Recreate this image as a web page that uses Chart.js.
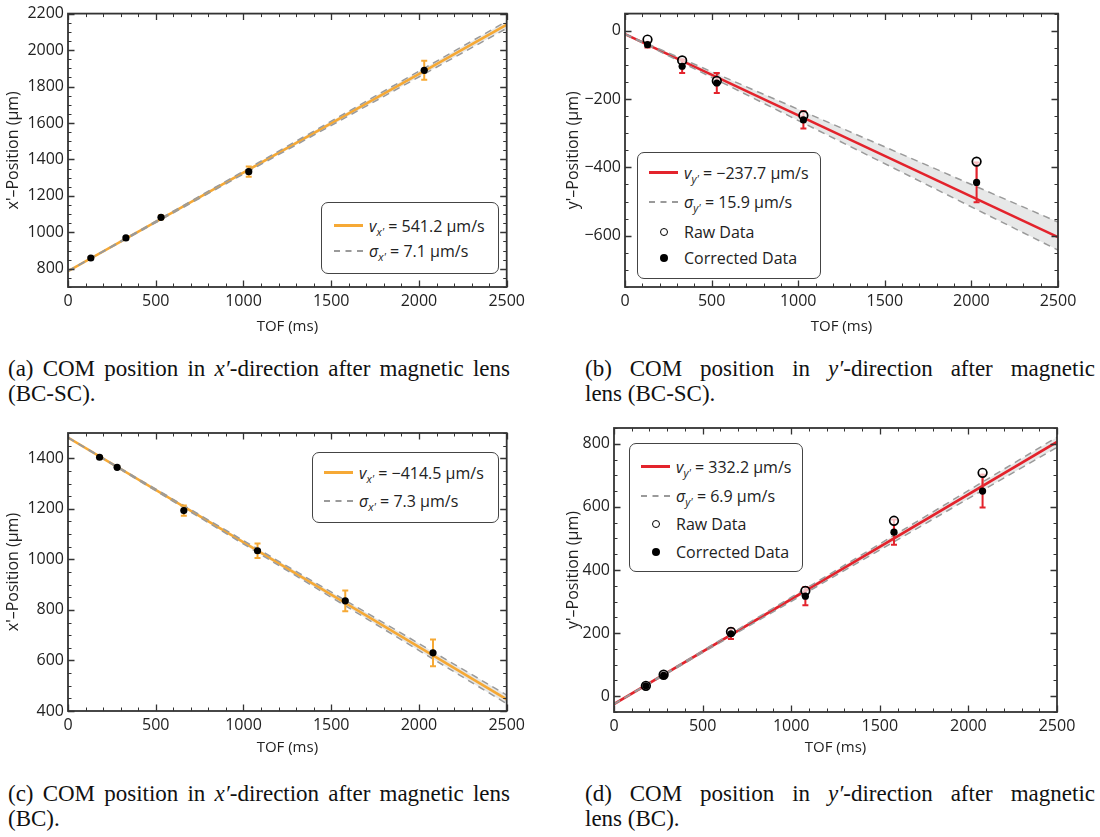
<!DOCTYPE html>
<html>
<head>
<meta charset="utf-8">
<script src="https://cdn.jsdelivr.net/npm/chart.js@4/dist/chart.umd.min.js"></script>
<style>
  body { margin: 0; background: #fff; width: 1100px; height: 837px; position: relative; overflow: hidden; font-family: "Open Sans", sans-serif; color: #222; }
  canvas { position: absolute; }
  .legend { position: absolute; border: 1.3px solid #444; border-radius: 7px; background: #fff; font-size: 16px; box-sizing: border-box; }
  .row { position: absolute; left: 0; height: 20px; line-height: 20px; white-space: nowrap; }
  .sw { position: absolute; top: 9px; width: 29px; height: 0; }
  .sw.orange { border-top: 3px solid #f6a935; top: 8px; }
  .sw.red { border-top: 3px solid #e3232c; top: 8px; }
  .sw.dash { border-top: 2px dashed #9a9a9a; }
  .mk { position: absolute; top: 6px; width: 8px; height: 8px; border-radius: 50%; box-sizing: border-box; }
  .mk.open { border: 1.5px solid #000; background: #fff; }
  .mk.full { background: #000; }
  .lt { position: absolute; top: 0; }
  .lt sub { font-size: 11px; vertical-align: -4px; line-height: 0; }
  .cap { position: absolute; font-family: "Liberation Serif", serif; font-size: 23px; line-height: 25px; color: #111; white-space: nowrap; }
  .cap.l1 { text-align: justify; text-align-last: justify; white-space: normal; }
</style>
</head>
<body>

<canvas id="cA" width="530" height="340" style="left:0;top:0"></canvas>
<canvas id="cB" width="530" height="340" style="left:560px;top:0"></canvas>
<canvas id="cC" width="530" height="351" style="left:0;top:410px"></canvas>
<canvas id="cD" width="530" height="351" style="left:560px;top:410px"></canvas>

<!-- legends -->
<div class="legend" style="left:321px;top:202px;width:178px;height:72px">
  <div class="row" style="top:13px"><span class="sw orange" style="left:12px"></span><span class="lt" style="left:47px"><i>v</i><sub><i>x'</i></sub> = 541.2 μm/s</span></div>
  <div class="row" style="top:38px"><span class="sw dash" style="left:12px"></span><span class="lt" style="left:47px"><i>σ</i><sub><i>x'</i></sub> = 7.1 μm/s</span></div>
</div>
<div class="legend" style="left:637px;top:152px;width:184px;height:127px">
  <div class="row" style="top:10px"><span class="sw red" style="left:11px"></span><span class="lt" style="left:46px"><i>v</i><sub><i>y'</i></sub> = −237.7 μm/s</span></div>
  <div class="row" style="top:39px"><span class="sw dash" style="left:11px"></span><span class="lt" style="left:46px"><i>σ</i><sub><i>y'</i></sub> = 15.9 μm/s</span></div>
  <div class="row" style="top:69px"><span class="mk open" style="left:22px"></span><span class="lt" style="left:46px">Raw Data</span></div>
  <div class="row" style="top:95px"><span class="mk full" style="left:22px"></span><span class="lt" style="left:46px">Corrected Data</span></div>
</div>
<div class="legend" style="left:312px;top:452px;width:187px;height:71px">
  <div class="row" style="top:10px"><span class="sw orange" style="left:11px"></span><span class="lt" style="left:46px"><i>v</i><sub><i>x'</i></sub> = −414.5 μm/s</span></div>
  <div class="row" style="top:38px"><span class="sw dash" style="left:11px"></span><span class="lt" style="left:46px"><i>σ</i><sub><i>x'</i></sub> = 7.3 μm/s</span></div>
</div>
<div class="legend" style="left:629px;top:443px;width:174px;height:129px">
  <div class="row" style="top:13px"><span class="sw red" style="left:11px"></span><span class="lt" style="left:46px"><i>v</i><sub><i>y'</i></sub> = 332.2 μm/s</span></div>
  <div class="row" style="top:42px"><span class="sw dash" style="left:11px"></span><span class="lt" style="left:46px"><i>σ</i><sub><i>y'</i></sub> = 6.9 μm/s</span></div>
  <div class="row" style="top:70px"><span class="mk open" style="left:22px"></span><span class="lt" style="left:46px">Raw Data</span></div>
  <div class="row" style="top:98px"><span class="mk full" style="left:22px"></span><span class="lt" style="left:46px">Corrected Data</span></div>
</div>

<!-- captions -->
<div class="cap l1" style="left:8px;top:356px;width:502px">(a) COM position in <i>x′</i>-direction after magnetic lens</div>
<div class="cap" style="left:8px;top:381px">(BC-SC).</div>
<div class="cap l1" style="left:585px;top:356px;width:510px">(b) COM position in <i>y′</i>-direction after magnetic</div>
<div class="cap" style="left:585px;top:381px">lens (BC-SC).</div>
<div class="cap l1" style="left:8px;top:781px;width:502px">(c) COM position in <i>x′</i>-direction after magnetic lens</div>
<div class="cap" style="left:8px;top:806px">(BC).</div>
<div class="cap l1" style="left:585px;top:781px;width:510px">(d) COM position in <i>y′</i>-direction after magnetic</div>
<div class="cap" style="left:585px;top:806px">lens (BC).</div>

<script>
// ---- data ----
const ticksX = [0, 500, 1000, 1500, 2000, 2500];
const fitX = [0, 2500]; // TOF where fit lines are evaluated

// (a) x' after lens BC-SC
const tofA = [130, 330, 530, 1030, 2030];
const posA = [859, 969, 1082, 1333, 1889];
const errA = [6, 6, 10, 28, 52];
const fitA = [787, 2139];
const hiA = [787, 2158];
const loA = [787, 2119];
const ticksYA = [800, 1000, 1200, 1400, 1600, 1800, 2000, 2200];

// (b) y' after lens BC-SC
const tofB = [130, 330, 530, 1030, 2030];
const rawB = [-26, -87, -147, -248, -383];
const corB = [-41, -104, -153, -261, -444];
const errB = [8, 20, 29, 25, 58];
const fitB = [-10, -604];
const hiB = [-10, -560];
const loB = [-10, -642];
const ticksYB = [-600, -400, -200, 0];

// (c) x' after lens BC
const tofC = [180, 280, 660, 1080, 1580, 2080];
const posC = [1404, 1364, 1193, 1034, 836, 630];
const errC = [5, 5, 20, 29, 41, 53];
const fitC = [1482, 446];
const hiC = [1482, 463];
const loC = [1482, 429];
const ticksYC = [400, 600, 800, 1000, 1200, 1400];

// (d) y' after lens BC
const tofD = [180, 280, 660, 1080, 1580, 2080];
const rawD = [33, 68, 204, 334, 556, 708];
const corD = [33, 66, 198, 317, 520, 650];
const errD = [6, 6, 17, 29, 40, 52];
const fitD = [-25, 806];
const hiD = [-25, 821];
const loD = [-25, 789];
const ticksYD = [0, 200, 400, 600, 800];

Chart.defaults.font.family = "'Open Sans', sans-serif";
Chart.defaults.color = "#222";

const ORANGE = "#f6a935";
const RED = "#e3232c";
const DASH = "#9a9a9a";
const BAND = "#e7e8e8";

const pts = (xs, ys) => xs.map((x, i) => ({ x, y: ys[i] }));
// plain numbers, real minus sign, no thousands separator
const fmt = (v) => String(v).replace("-", "\u2212");

// Mathematica-like frame with inward ticks on all four sides
const frameTicks = {
	id: "frameTicks",
	afterDatasetsDraw(chart, args, opts) {
		const { ctx, chartArea: a, scales } = chart;
		const xs = scales.x, ys = scales.y;
		ctx.save();
		ctx.strokeStyle = "#333";
		ctx.lineWidth = 1;
		const tick = (len, list, horiz) => {
			list.forEach((v) => {
				if (horiz) {
					const p = Math.round(xs.getPixelForValue(v)) + 0.5;
					ctx.beginPath();
					ctx.moveTo(p, a.bottom); ctx.lineTo(p, a.bottom - len);
					ctx.moveTo(p, a.top); ctx.lineTo(p, a.top + len);
					ctx.stroke();
				} else {
					const p = Math.round(ys.getPixelForValue(v)) + 0.5;
					ctx.beginPath();
					ctx.moveTo(a.left, p); ctx.lineTo(a.left + len, p);
					ctx.moveTo(a.right, p); ctx.lineTo(a.right - len, p);
					ctx.stroke();
				}
			});
		};
		const minor = (min, max, step) => {
			const out = [];
			for (let v = Math.ceil(min / step) * step; v <= max; v += step) out.push(v);
			return out;
		};
		tick(3.5, minor(xs.min, xs.max, opts.minorX), true);
		tick(3.5, minor(ys.min, ys.max, opts.minorY), false);
		ctx.lineWidth = 1.3;
		tick(6.5, ticksX, true);
		tick(6.5, opts.majorY, false);
		ctx.lineWidth = 1.8;
		ctx.strokeRect(a.left, a.top, a.right - a.left, a.bottom - a.top);
		ctx.restore();
	},
};

// error bars (and raw->corrected link) drawn before the scatter points
const errorBars = {
	id: "errorBars",
	afterDatasetDraw(chart, args) {
		const eb = chart.data.datasets[args.index].eb;
		if (!eb) return;
		const { ctx } = chart;
		const xs = chart.scales.x, ys = chart.scales.y;
		ctx.save();
		eb.tof.forEach((t, i) => {
			const px = xs.getPixelForValue(t);
			if (eb.raw) {
				ctx.strokeStyle = "rgba(226, 110, 120, 0.55)";
				ctx.lineWidth = 2.2;
				ctx.beginPath();
				ctx.moveTo(px, ys.getPixelForValue(eb.raw[i]));
				ctx.lineTo(px, ys.getPixelForValue(eb.y[i]));
				ctx.stroke();
			}
			const top = ys.getPixelForValue(eb.y[i] + eb.err[i]);
			const bot = ys.getPixelForValue(eb.y[i] - eb.err[i]);
			ctx.strokeStyle = eb.color;
			ctx.lineWidth = 2;
			ctx.beginPath();
			ctx.moveTo(px, top); ctx.lineTo(px, bot);
			ctx.moveTo(px - 3, top); ctx.lineTo(px + 3, top);
			ctx.moveTo(px - 3, bot); ctx.lineTo(px + 3, bot);
			ctx.stroke();
		});
		ctx.restore();
	},
};

function makePanel(id, p) {
	const datasets = [
		{
			label: "Corrected Data",
			data: pts(p.tof, p.cor),
			showLine: false,
			pointRadius: 3.6,
			pointBackgroundColor: "#000",
			pointBorderWidth: 0,
		},
	];
	if (p.raw) {
		datasets.push({
			label: "Raw Data",
			data: pts(p.tof, p.raw),
			showLine: false,
			pointRadius: 4.3,
			pointBackgroundColor: "rgba(255,255,255,0.7)",
			pointBorderColor: "#000",
			pointBorderWidth: 1.7,
		});
	}
	datasets.push(
		{
			label: "upper",
			data: pts(fitX, p.hi),
			borderColor: DASH,
			borderWidth: 1.5,
			borderDash: [7, 5],
			pointRadius: 0,
			fill: "+1",
			backgroundColor: BAND,
			eb: { tof: p.tof, y: p.cor, err: p.err, raw: p.raw, color: p.color },
		},
		{
			label: "lower",
			data: pts(fitX, p.lo),
			borderColor: DASH,
			borderWidth: 1.5,
			borderDash: [7, 5],
			pointRadius: 0,
		},
		{
			label: "fit",
			data: pts(fitX, p.fit),
			borderColor: p.color,
			borderWidth: 2.6,
			pointRadius: 0,
		}
	);

	new Chart(document.getElementById(id), {
		type: "line",
		data: { datasets },
		plugins: [errorBars, frameTicks],
		options: {
			responsive: false,
			animation: false,
			events: [],
			layout: { padding: { left: 0, top: p.top, right: p.right, bottom: 0 } },
			plugins: {
				legend: { display: false },
				tooltip: { enabled: false },
				filler: { drawTime: "beforeDatasetsDraw" },
				frameTicks: { minorX: 100, minorY: 50, majorY: p.ticksY },
			},
			scales: {
				x: {
					type: "linear",
					min: 0,
					max: 2500,
					grid: { display: false, drawTicks: false },
					border: { display: false },
					afterBuildTicks: (s) => { s.ticks = ticksX.map((v) => ({ value: v })); },
					afterFit: (s) => { s.height = p.xh; },
					ticks: { font: { size: 16 }, padding: 5, maxRotation: 0, callback: fmt },
					title: { display: true, text: "TOF (ms)", font: { size: 15 } },
				},
				y: {
					min: p.ymin,
					max: p.ymax,
					grid: { display: false, drawTicks: false },
					border: { display: false },
					afterBuildTicks: (s) => { s.ticks = p.ticksY.map((v) => ({ value: v })); },
					afterFit: (s) => { s.width = p.yw; },
					ticks: { font: { size: 16 }, padding: 4, callback: fmt },
					title: { display: true, text: p.ytitle, font: { size: 16 } },
				},
			},
		},
	});
}

makePanel("cA", {
	tof: tofA, cor: posA, err: errA, fit: fitA, hi: hiA, lo: loA,
	color: ORANGE, ticksY: ticksYA, ymin: 700, ymax: 2200,
	ytitle: "x'\u2013Position (\u03bcm)", top: 10, right: 19, yw: 68, xh: 53,
});
makePanel("cB", {
	tof: tofB, cor: corB, raw: rawB, err: errB, fit: fitB, hi: hiB, lo: loB,
	color: RED, ticksY: ticksYB, ymin: -750, ymax: 50,
	ytitle: "y'\u2013Position (\u03bcm)", top: 12, right: 32, yw: 65, xh: 53,
});
makePanel("cC", {
	tof: tofC, cor: posC, err: errC, fit: fitC, hi: hiC, lo: loC,
	color: ORANGE, ticksY: ticksYC, ymin: 400, ymax: 1500,
	ytitle: "x'\u2013Position (\u03bcm)", top: 23, right: 19, yw: 68, xh: 50,
});
makePanel("cD", {
	tof: tofD, cor: corD, raw: rawD, err: errD, fit: fitD, hi: hiD, lo: loD,
	color: RED, ticksY: ticksYD, ymin: -50, ymax: 850,
	ytitle: "y'\u2013Position (\u03bcm)", top: 18, right: 33, yw: 54, xh: 49,
});
</script>
</body>
</html>
